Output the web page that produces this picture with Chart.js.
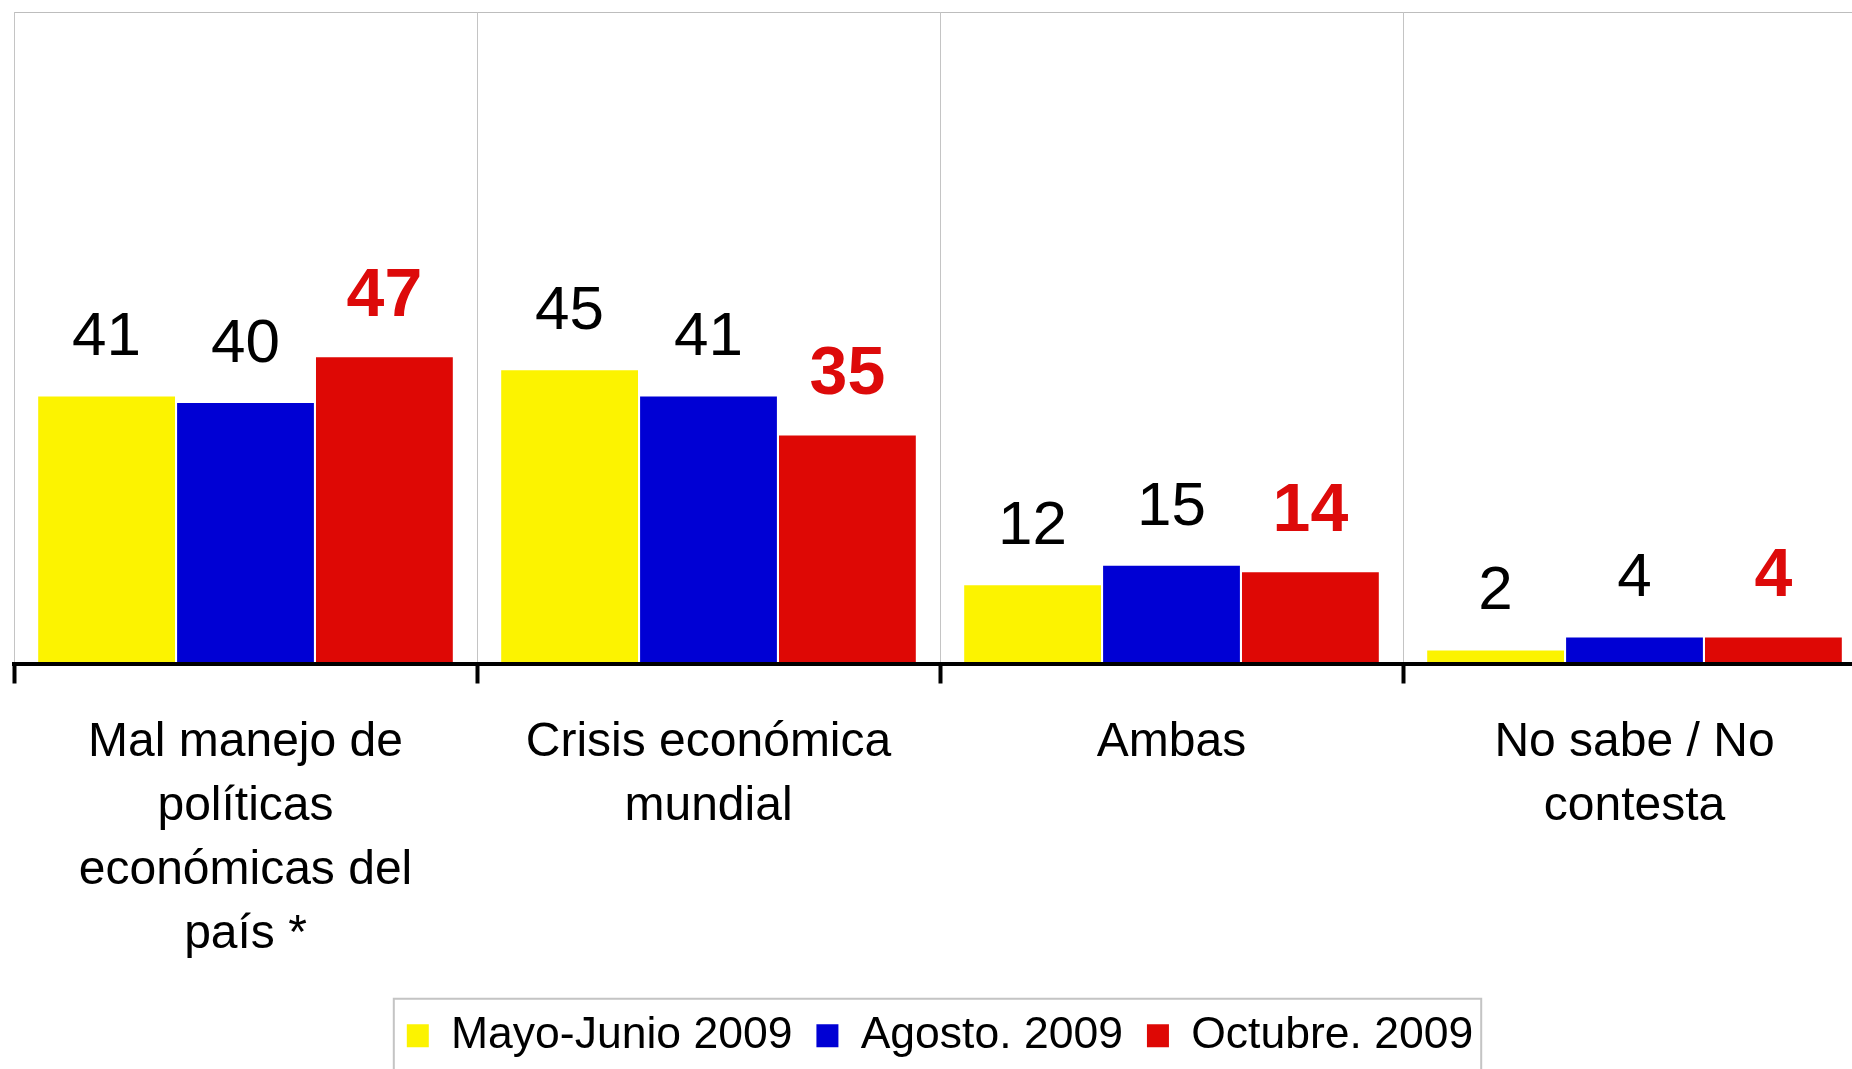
<!DOCTYPE html>
<html>
<head>
<meta charset="utf-8">
<script src="https://cdn.jsdelivr.net/npm/chart.js@4.4.1/dist/chart.umd.min.js"></script>
<style>
html, body { margin: 0; padding: 0; background: #fff; overflow: hidden; }
#wrap { width: 1880px; height: 1069px; }
</style>
</head>
<body>
<div id="wrap"><canvas id="chart" width="1880" height="1069"></canvas></div>
<script>
const FONT = '"Liberation Sans", Arial, sans-serif';

// categories (one array per label, one entry per line)
const categories = [
    ["Mal manejo de", "políticas", "económicas del", "país *"],
    ["Crisis económica", "mundial"],
    ["Ambas"],
    ["No sabe / No", "contesta"],
];
const seriesNames = ["Mayo-Junio 2009", "Agosto. 2009", "Octubre. 2009"];
const mayoJunio = [41, 45, 12, 2];
const agosto = [40, 41, 15, 4];
const octubre = [47, 35, 14, 4];
const seriesColors = ['#FCF300', '#0000D4', '#DE0805'];

// numbers above the bars, the last series in bold red
const valueLabels = {
    id: 'valueLabels',
    afterDatasetsDraw(chart) {
        const ctx = chart.ctx;
        ctx.save();
        ctx.textAlign = 'center';
        ctx.textBaseline = 'alphabetic';
        chart.data.datasets.forEach((ds, i) => {
            const last = i === chart.data.datasets.length - 1;
            ctx.font = (last ? 'bold 68px ' : '62px ') + FONT;
            ctx.fillStyle = last ? '#DD0A0A' : '#000';
            chart.getDatasetMeta(i).data.forEach((bar, j) => {
                ctx.fillText(ds.data[j], bar.x, bar.y - 41);
            });
        });
        ctx.restore();
    }
};

// top border of the plot and the box round the legend
const frame = {
    id: 'frame',
    beforeDatasetsDraw(chart) {
        const {ctx, chartArea} = chart;
        ctx.save();
        ctx.strokeStyle = '#BDBDBD';
        ctx.lineWidth = 1;
        ctx.beginPath();
        ctx.moveTo(chartArea.left, chartArea.top + 0.5);
        ctx.lineTo(chartArea.right, chartArea.top + 0.5);
        ctx.stroke();
        ctx.restore();
    },
    afterDraw(chart) {
        const boxes = chart.legend.legendHitBoxes;
        if (!boxes || !boxes.length) return;
        const first = boxes[0];
        const last = boxes[boxes.length - 1];
        const left = first.left - 13;
        const right = last.left + last.width + 8;
        const top = first.top + first.height / 2 - 37;
        const ctx = chart.ctx;
        ctx.save();
        ctx.strokeStyle = '#C4C4C4';
        ctx.lineWidth = 2;
        ctx.strokeRect(left, top, right - left, 200);
        ctx.restore();
    }
};

const datasets = [mayoJunio, agosto, octubre].map((values, i) => ({
    label: seriesNames[i],
    data: values,
    backgroundColor: seriesColors[i],
    borderWidth: 0,
    categoryPercentage: 0.9,
    barPercentage: 0.985,
}));

new Chart(document.getElementById('chart'), {
    type: 'bar',
    plugins: [valueLabels, frame],
    data: {
        labels: categories,
        datasets: datasets,
    },
    options: {
        responsive: false,
        animation: false,
        devicePixelRatio: 1,
        layout: { padding: { top: 12, left: 14, right: 14, bottom: 1 } },
        scales: {
            x: {
                offset: true,
                grid: {
                    z: 1,
                    offset: true,
                    color: '#C4C4C4',
                    lineWidth: 1,
                    tickColor: '#000',
                    tickWidth: 4,
                    tickLength: 20,
                },
                border: { color: '#000', width: 4, z: 1 },
                ticks: {
                    color: '#000',
                    font: { family: FONT, size: 48, lineHeight: 1.333 },
                    padding: 27,
                    maxRotation: 0,
                    autoSkip: false,
                },
                afterFit(scale) { scale.height = 326; },
            },
            y: {
                display: false,
                min: 0,
                max: 100,
            },
        },
        plugins: {
            tooltip: { enabled: false },
            legend: {
                position: 'bottom',
                labels: {
                    color: '#000',
                    boxWidth: 22,
                    boxHeight: 23,
                    padding: 24,
                    font: { family: FONT, size: 44.5 },
                },
            },
        },
    },
});
</script>
</body>
</html>
